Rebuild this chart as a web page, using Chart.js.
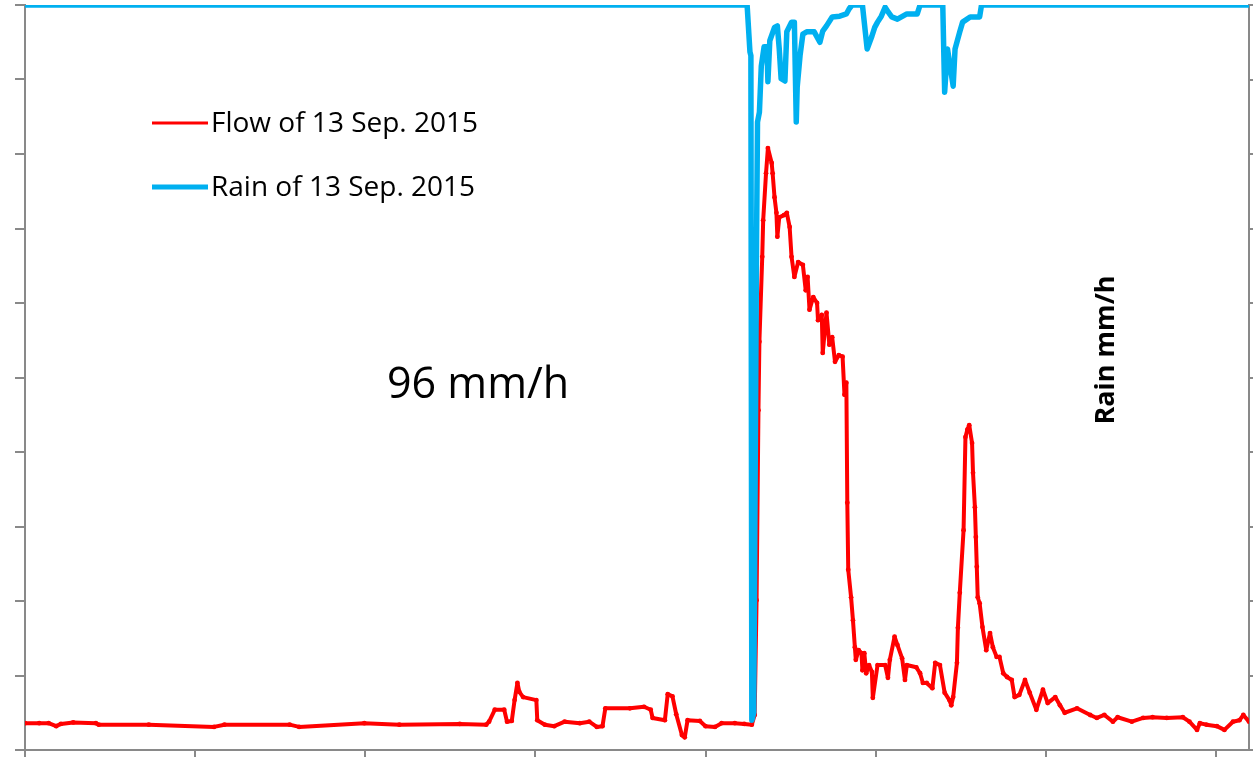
<!DOCTYPE html>
<html>
<head>
<meta charset="utf-8">
<script src="https://cdn.jsdelivr.net/npm/chart.js@4.4.1/dist/chart.umd.min.js"></script>
<style>
    html, body { margin: 0; padding: 0; background: #ffffff; }
    #wrap { width: 1253px; height: 757px; position: relative; }
</style>
</head>
<body>
<div id="wrap"><canvas id="chart"></canvas></div>
<script>
// time in minutes from the start of the record
const flowTime = [
    0, 15, 25, 33, 38, 51, 75, 78, 131, 200,
    211, 280, 290, 359, 396, 460, 488, 491, 497, 507,
    510, 515, 518, 521, 523, 527, 541, 542, 550, 560,
    571, 587, 597, 605, 611, 614, 640, 655, 662, 664,
    677, 680, 685, 689, 695, 698, 701, 714, 720, 730,
    737, 751, 761, 769, 772, 774, 776, 777, 780, 781,
    784, 786, 790, 791, 793, 795, 796, 798, 803, 806,
    809, 811, 814, 818, 823, 826, 828, 830, 834, 838,
    839, 843, 844, 848, 851, 854, 857, 861, 865, 867,
    869, 870, 871, 874, 876, 878, 879, 882, 885, 886,
    888, 890, 893, 896, 897, 902, 910, 913, 915, 920,
    923, 928, 931, 933, 943, 947, 950, 954, 960, 963,
    968, 973, 978, 980, 982, 986, 987, 989, 993, 995,
    997, 999, 1002, 1003, 1005, 1006, 1007, 1008, 1010, 1013,
    1017, 1021, 1024, 1028, 1031, 1035, 1039, 1044, 1047, 1052,
    1058, 1063, 1070, 1077, 1082, 1090, 1095, 1100, 1113, 1127,
    1134, 1142, 1151, 1156, 1171, 1183, 1193, 1208, 1225, 1232,
    1240, 1243, 1250, 1261, 1269, 1278, 1285, 1289, 1295
];
const flowValue = [
    3.6, 3.6, 3.6, 3.2, 3.5, 3.7, 3.6, 3.4, 3.4, 3.1,
    3.4, 3.4, 3.1, 3.6, 3.4, 3.5, 3.4, 3.8, 5.4, 5.4,
    3.8, 3.9, 6.7, 9.0, 7.8, 7.1, 6.7, 4.0, 3.4, 3.2,
    3.8, 3.6, 3.8, 3.1, 3.2, 5.6, 5.6, 5.8, 5.4, 4.3,
    4.0, 7.5, 7.2, 4.8, 2.0, 1.7, 4.0, 3.9, 3.2, 3.1,
    3.6, 3.6, 3.5, 3.4, 4.7, 20.1, 45.6, 54.8, 66.2, 71.1,
    77.4, 80.8, 78.8, 77.4, 74.2, 72.1, 68.9, 71.5, 71.8, 72.1,
    70.2, 66.2, 63.5, 65.5, 65.1, 61.7, 63.5, 59.1, 60.8, 60.0,
    57.7, 58.4, 53.3, 58.7, 54.4, 55.4, 52.1, 53.0, 52.8, 47.7,
    49.3, 33.2, 24.2, 20.5, 17.4, 13.8, 12.1, 13.4, 13.0, 10.7,
    13.0, 10.3, 11.4, 10.5, 7.0, 11.4, 11.4, 9.7, 12.1, 15.2,
    14.1, 12.3, 9.4, 11.4, 11.1, 10.3, 9.0, 9.0, 8.3, 11.7,
    11.4, 7.7, 6.7, 6.0, 7.1, 11.7, 16.4, 21.1, 29.5, 42.0,
    43.0, 43.6, 41.2, 37.2, 32.6, 28.6, 24.6, 20.5, 19.7, 16.5,
    13.4, 15.7, 13.8, 12.5, 12.5, 10.3, 9.8, 9.4, 7.1, 7.4,
    9.4, 7.7, 5.4, 8.1, 6.3, 7.1, 6.0, 5.0, 5.6, 4.7,
    4.3, 4.7, 3.8, 4.4, 3.8, 4.3, 4.4, 4.3, 4.4, 3.8,
    2.7, 3.6, 3.4, 3.2, 2.7, 3.8, 4.0, 4.7, 3.8
];

const rainTime = [
    0, 764, 767, 768, 769, 771, 774, 775, 777, 779,
    782, 785, 786, 788, 793, 796, 798, 800, 804, 806,
    811, 814, 816, 817, 820, 823, 827, 835, 841, 844,
    848, 854, 862, 869, 872, 875, 886, 891, 896, 899,
    902, 906, 910, 913, 917, 923, 933, 944, 947, 971,
    973, 976, 982, 984, 989, 992, 1000, 1010, 1012, 1295
];
const rainValue = [
    0, 0, 6.3, 6.8, 96, 95, 31.4, 15.7, 14.4, 8.2,
    5.6, 5.6, 10.3, 4.8, 3.0, 2.8, 5.9, 9.9, 10.2, 3.6,
    2.3, 2.3, 15.7, 11.0, 6.8, 3.9, 3.6, 3.6, 5.0, 3.5,
    2.8, 1.6, 1.5, 1.2, 0.5, 0, 0, 5.9, 4.2, 3.0,
    2.3, 1.5, 0.3, 0.9, 1.6, 1.9, 1.2, 1.2, 0, 0,
    11.7, 5.9, 10.9, 5.9, 3.6, 2.3, 1.6, 1.6, 0, 0
];

const seriesNames = ['Flow of 13 Sep. 2015', 'Rain of 13 Sep. 2015'];
const peakNote = '96 mm/h';
const rainTitle = 'Rain mm/h';

const RED = '#ff0000';
const BLUE = '#00b0f0';
const AXIS = '#898989';

function toPoints(xs, ys) {
    return xs.map((x, i) => ({ x: x, y: ys[i] }));
}

// legend and free text drawn straight onto the canvas
const textLayer = {
    id: 'textLayer',
    afterDatasetsDraw(chart) {
        const ctx = chart.ctx;
        ctx.save();
        ctx.lineCap = 'butt';

        ctx.strokeStyle = RED;
        ctx.lineWidth = 3;
        ctx.beginPath();
        ctx.moveTo(152, 123);
        ctx.lineTo(208, 123);
        ctx.stroke();

        ctx.strokeStyle = BLUE;
        ctx.lineWidth = 5;
        ctx.beginPath();
        ctx.moveTo(152, 187);
        ctx.lineTo(208, 187);
        ctx.stroke();

        ctx.fillStyle = '#000000';
        ctx.textBaseline = 'middle';
        ctx.textAlign = 'left';
        ctx.font = '28px "Open Sans"';
        ctx.fillText(seriesNames[0], 211, 124);
        ctx.fillText(seriesNames[1], 211, 188);

        ctx.font = '43px "Open Sans"';
        ctx.fillText(peakNote, 387, 386);

        ctx.translate(1106, 350);
        ctx.rotate(-Math.PI / 2);
        ctx.textAlign = 'center';
        ctx.font = 'bold 27px "Open Sans"';
        ctx.fillText(rainTitle, 0, 0);
        ctx.restore();
    }
};

const config = {
    type: 'line',
    data: {
        datasets: [{
            label: seriesNames[0],
            data: toPoints(flowTime, flowValue),
            yAxisID: 'y',
            borderColor: RED,
            backgroundColor: RED,
            borderWidth: 4,
            pointRadius: 2.4,
            pointBorderWidth: 0,
            borderJoinStyle: 'round',
            order: 2
        }, {
            label: seriesNames[1],
            data: toPoints(rainTime, rainValue),
            yAxisID: 'y2',
            borderColor: BLUE,
            backgroundColor: BLUE,
            borderWidth: 5.5,
            pointRadius: 0,
            borderJoinStyle: 'round',
            borderCapStyle: 'round',
            order: 1
        }]
    },
    options: {
        responsive: true,
        maintainAspectRatio: false,
        animation: false,
        events: [],
        layout: {
            padding: { left: 15, top: 5, right: 0, bottom: 0 }
        },
        plugins: {
            legend: { display: false },
            tooltip: { enabled: false }
        },
        elements: {
            line: { tension: 0 }
        },
        scales: {
            x: {
                type: 'linear',
                min: 0,
                max: 1295,
                border: { color: AXIS, width: 2 },
                grid: { drawOnChartArea: false, drawTicks: true, tickLength: 7, color: AXIS, lineWidth: 2 },
                ticks: { display: false, stepSize: 180, includeBounds: false }
            },
            y: {
                position: 'left',
                min: 0,
                max: 100,
                border: { color: AXIS, width: 2 },
                grid: { drawOnChartArea: false, drawTicks: true, tickLength: 10, color: AXIS, lineWidth: 2 },
                ticks: { display: false, stepSize: 10 }
            },
            y2: {
                position: 'right',
                reverse: true,
                min: 0,
                max: 100,
                border: { color: AXIS, width: 2 },
                grid: { drawOnChartArea: false, drawTicks: true, tickLength: 4, color: AXIS, lineWidth: 2 },
                ticks: { display: false, stepSize: 10 }
            }
        }
    },
    plugins: [textLayer]
};

const myChart = new Chart(document.getElementById('chart'), config);
</script>
</body>
</html>
